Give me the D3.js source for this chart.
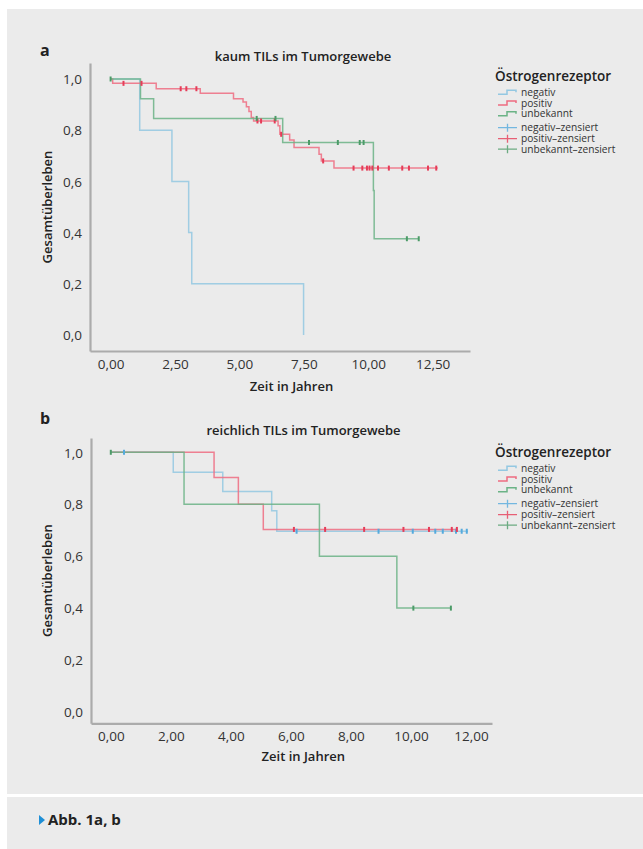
<!DOCTYPE html>
<html>
<head>
<meta charset="utf-8">
<script src="https://cdn.jsdelivr.net/npm/d3@7"></script>
<style>
  body { margin: 0; background: #fff; }
  svg { display: block; font-family: "Open Sans", sans-serif; }
</style>
</head>
<body>
<div id="chartDiv"></div>
<script>
// ---- data ----
const groupNames = ["negativ", "positiv", "unbekannt"];
const legendLabels = ["negativ", "positiv", "unbekannt", "negativ\u2013zensiert", "positiv\u2013zensiert", "unbekannt\u2013zensiert"];

// panel a: kaum TILs  [time in years, survival]
const negStepsA = [[0, 1], [1.13, 0.8], [2.38, 0.6], [3.03, 0.4], [3.15, 0.2], [7.49, 0]];
const posStepsA = [[0, 1], [0.08, 0.983], [1.77, 0.962], [3.48, 0.944], [4.77, 0.923], [5.14, 0.91], [5.27, 0.892],
  [5.37, 0.873], [5.46, 0.85], [5.55, 0.836], [6.5, 0.817], [6.57, 0.784], [6.95, 0.762], [7.12, 0.732],
  [8.09, 0.706], [8.18, 0.68], [8.67, 0.652]];
const unkStepsA = [[0, 1], [1.16, 0.923], [1.67, 0.846], [6.68, 0.752], [10.2, 0.564], [10.23, 0.376]];
const endTimesA = [7.49, 12.7, 11.96];
const negCensA = [];
const posCensA = [0.5, 1.2, 2.72, 2.94, 3.33, 5.7, 5.84, 6.37, 6.62, 8.25, 9.43, 9.77, 9.95, 10.05, 10.16, 10.38,
  10.8, 11.32, 11.58, 12.32, 12.64];
const unkCensA = [0, 5.67, 6.4, 7.7, 8.82, 9.67, 9.82, 11.5, 11.96];
const xTicksA = [0, 2.5, 5, 7.5, 10, 12.5];

// panel b: reichlich TILs
const negStepsB = [[0, 1], [2.08, 0.923], [3.73, 0.849], [5.36, 0.775], [5.53, 0.696]];
const posStepsB = [[0, 1], [3.44, 0.903], [4.25, 0.8], [5.08, 0.703]];
const unkStepsB = [[0, 1], [2.44, 0.8], [6.95, 0.6], [9.53, 0.4]];
const endTimesB = [11.9, 11.55, 11.33];
const negCensB = [0.44, 6.19, 8.92, 10.06, 10.81, 11.06, 11.5, 11.69, 11.86];
const posCensB = [6.1, 7.14, 8.44, 9.75, 10.6, 11.36, 11.53];
const unkCensB = [0, 10.08, 11.33];
const xTicksB = [0, 2, 4, 6, 8, 10, 12];

const yTicks = [0, 0.2, 0.4, 0.6, 0.8, 1.0];

// ---- styling ----
const lineColors = ["#93c8e2", "#ee6c81", "#6bb386"];
const censColors = ["#55aadd", "#e63c58", "#4c9b68"];
const axisColor = "#ababab";
const bgGray = "#ebebeb";

const svg = d3.select("#chartDiv").append("svg")
  .attr("width", 643)
  .attr("height", 849);

svg.append("rect").attr("x", 7).attr("y", 9).attr("width", 636).attr("height", 785).attr("fill", bgGray);
svg.append("rect").attr("x", 7).attr("y", 797).attr("width", 636).attr("height", 52).attr("fill", bgGray);

// caption
svg.append("path").attr("d", "M39,815 L45,820 L39,825 Z").attr("fill", "#1e8fd6");
svg.append("text").attr("x", 48).attr("y", 820).attr("dy", "0.35em")
  .style("font-size", "15px").style("font-weight", 700).attr("fill", "#222")
  .text("Abb. 1a, b");

function survAt(steps, t){
  let s = steps[0][1];
  steps.forEach(d => { if (d[0] <= t) s = d[1]; });
  return s;
}

function fmtComma(digits){
  return d => d3.format("." + digits + "f")(d).replace(".", ",");
}

function buildPanel(cfg){
  const g = svg.append("g");
  const x = d3.scaleLinear().domain(cfg.xDomain).range(cfg.xRange);
  const y = d3.scaleLinear().domain(cfg.yDomain).range(cfg.yRange);

  // axes
  const xAxis = g.append("g")
    .attr("transform", `translate(0,${cfg.yRange[0]})`)
    .call(d3.axisBottom(x).tickValues(cfg.xTicks).tickFormat(fmtComma(2)).tickSize(0).tickSizeOuter(0));
  xAxis.selectAll("text").attr("y", 13).attr("dy", "0.35em");

  const yAxis = g.append("g")
    .attr("transform", `translate(${cfg.xRange[0]},0)`)
    .call(d3.axisLeft(y).tickValues(yTicks).tickFormat(fmtComma(1)).tickSize(0).tickSizeOuter(0));
  yAxis.selectAll("text").attr("x", -8).attr("dy", "0.35em");

  [xAxis, yAxis].forEach(a => {
    a.select(".domain").attr("stroke", axisColor).attr("stroke-width", 2.2);
    a.selectAll("text").attr("fill", "#333").style("font-size", "13.5px").style("font-family", "Open Sans");
  });

  // curves
  const stepLine = d3.line()
    .x(d => x(d[0]))
    .y(d => y(d[1]))
    .curve(d3.curveStepAfter);

  cfg.steps.forEach((steps, i) => {
    const pts = steps.concat([[cfg.endTimes[i], steps[steps.length - 1][1]]]);
    g.append("path")
      .attr("d", stepLine(pts))
      .attr("fill", "none")
      .attr("stroke", lineColors[i])
      .attr("stroke-opacity", 0.85)
      .attr("stroke-width", 1.5);
  });

  // censor marks
  cfg.censors.forEach((cens, i) => {
    g.selectAll(null)
      .data(cens)
      .enter()
      .append("line")
      .attr("x1", d => x(d)).attr("x2", d => x(d))
      .attr("y1", d => y(survAt(cfg.steps[i], d)) - 2.5)
      .attr("y2", d => y(survAt(cfg.steps[i], d)) + 2.5)
      .attr("stroke", censColors[i])
      .attr("stroke-width", 2);
  });

  // texts
  g.append("text").attr("x", cfg.titlePos[0]).attr("y", cfg.titlePos[1]).attr("dy", "0.35em")
    .attr("text-anchor", "middle").style("font-size", "13px").style("font-weight", 600).attr("fill", "#222")
    .text(cfg.title);

  g.append("text").attr("x", 40).attr("y", cfg.letterY).attr("dy", "0.35em")
    .style("font-size", "16px").style("font-weight", 700).attr("fill", "#222")
    .text(cfg.letter);

  g.append("text").attr("x", cfg.xLabelPos[0]).attr("y", cfg.xLabelPos[1]).attr("dy", "0.35em")
    .attr("text-anchor", "middle").style("font-size", "13px").style("font-weight", 600).attr("fill", "#222")
    .text("Zeit in Jahren");

  const yMid = (cfg.yRange[0] + cfg.yRange[1]) / 2;
  g.append("text")
    .attr("transform", `translate(47,${yMid}) rotate(-90)`)
    .attr("dy", "0.35em")
    .attr("text-anchor", "middle").style("font-size", "13px").style("font-weight", 600).attr("fill", "#222")
    .text("Gesamtüberleben");

  // legend
  const lg = g.append("g").attr("transform", `translate(495,${cfg.legendY})`);
  lg.append("text").attr("x", 0).attr("y", 0).attr("dy", "0.35em")
    .style("font-size", "13.5px").style("font-weight", 600).attr("fill", "#222")
    .text("Östrogenrezeptor");
  const itemOffsets = [16.3, 27, 37.7, 51.7, 62.7, 73.2];
  legendLabels.forEach((lab, i) => {
    const yy = itemOffsets[i];
    const ci = i % 3;
    if (i < 3) {
      lg.append("path")
        .attr("d", `M3,${yy + 2} H12 V${yy - 2} H21 V${yy}`)
        .attr("fill", "none").attr("stroke", lineColors[ci]).attr("stroke-width", 1.5);
    } else {
      lg.append("path")
        .attr("d", `M3,${yy} H22 M12.5,${yy - 4} V${yy + 4}`)
        .attr("fill", "none").attr("stroke", censColors[ci]).attr("stroke-opacity", 0.8).attr("stroke-width", 1.3);
    }
    lg.append("text").attr("x", 26).attr("y", yy).attr("dy", "0.35em")
      .style("font-size", "10.2px").attr("fill", "#333")
      .text(lab);
  });
}

buildPanel({
  letter: "a", letterY: 50,
  title: "kaum TILs im Tumorgewebe", titlePos: [303, 56],
  xLabelPos: [291.5, 386],
  legendY: 76,
  xDomain: [-0.8, 13.95], xRange: [90, 470],
  yDomain: [-0.0625, 1.0625], yRange: [351, 63],
  xTicks: xTicksA,
  steps: [negStepsA, posStepsA, unkStepsA],
  endTimes: endTimesA,
  censors: [negCensA, posCensA, unkCensA]
});

buildPanel({
  letter: "b", letterY: 418,
  title: "reichlich TILs im Tumorgewebe", titlePos: [303.5, 430],
  xLabelPos: [303.3, 756],
  legendY: 452,
  xDomain: [-0.66, 12.7], xRange: [91, 492],
  yDomain: [-0.0435, 1.055], yRange: [723.3, 438],
  xTicks: xTicksB,
  steps: [negStepsB, posStepsB, unkStepsB],
  endTimes: endTimesB,
  censors: [negCensB, posCensB, unkCensB]
});
</script>
</body>
</html>
